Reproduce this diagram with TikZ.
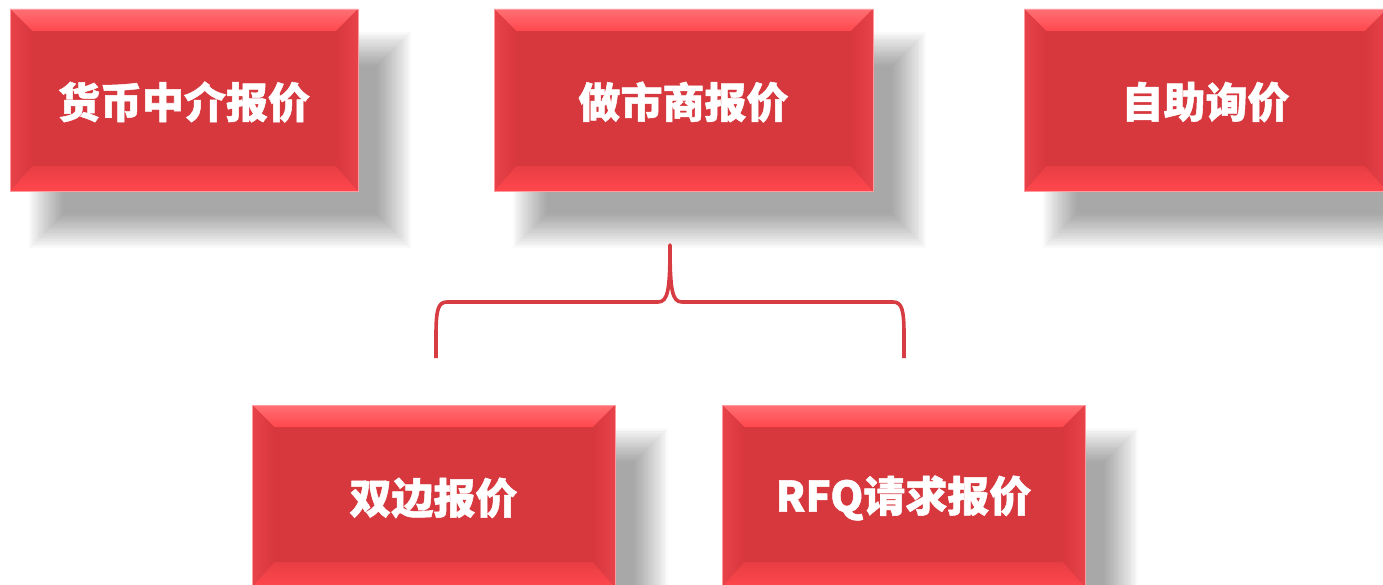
\documentclass[tikz,border=0pt]{standalone}
\usepackage{fontspec}
\newfontfamily\cjk{Noto Sans CJK SC}[FakeBold=1.2]
\definecolor{cmain}{HTML}{D7383D}
\definecolor{ctopA}{HTML}{FF7074}
\definecolor{ctopB}{HTML}{FF474D}
\definecolor{cside}{HTML}{E9424A}
\definecolor{cbrace}{HTML}{D63C41}
\tikzset{
  lbl/.style={text=white,font=\cjk\bfseries\fontsize{42}{50}\selectfont,inner sep=0pt},
  bracestyle/.style={draw=cbrace,line width=3.6pt,line cap=butt,line join=round}
}
\newcommand\rbox[6]{%
  \foreach \i in {-10,...,10}{
    \fill[black,opacity=0.021] ({#2+36-\i*1.7},{#3+40-\i*1.7}) rectangle ({#4+36+\i*1.7},{#5+40+\i*1.7});
  }
  \fill[cmain] (#2,#3) rectangle (#4,#5);
  \shade[top color=ctopA,bottom color=ctopB] (#2,#3) -- (#4,#3) -- ({#4-22},{#3+22}) -- ({#2+22},{#3+22}) -- cycle;
  \shade[top color=cmain!60!ctopB,bottom color=ctopB] (#2,#5) -- (#4,#5) -- ({#4-22},{#5-25}) -- ({#2+22},{#5-25}) -- cycle;
  \shade[left color=cside,right color=cmain] (#2,#3) -- ({#2+22},{#3+22}) -- ({#2+22},{#5-25}) -- (#2,#5) -- cycle;
  \shade[right color=cside,left color=cmain] (#4,#3) -- ({#4-22},{#3+22}) -- ({#4-22},{#5-25}) -- (#4,#5) -- cycle;
  \draw[ctopA!70!white,line width=0.8pt] (#2,#3) rectangle (#4,#5);
  \node[lbl] (#1) at ({(#2+#4)/2},{(#3+#5)/2+2}) {#6};
}
\begin{document}
\begin{tikzpicture}[x=1pt,y=-1pt]
\useasboundingbox (0,0) rectangle (1383,585);
\rbox{b1}{10}{9}{358}{191}{货币中介报价}
\rbox{b2}{494}{9}{873}{191}{做市商报价}
\rbox{b3}{1024}{9}{1387}{191}{自助询价}
\rbox{b4}{252}{405}{615}{587}{双边报价}
\rbox{b5}{722}{405}{1085}{587}{RFQ请求报价}
\coordinate (bl) at (436,358);
\coordinate (tip) at (670,245);
\coordinate (br) at (904,358);
\draw[bracestyle] (bl) -- (436,335) .. controls (436,310) and (438,302) .. (447,302)
  -- (658,302) .. controls (668,302) and (670,290) .. (tip)
  .. controls (670,290) and (672,302) .. (682,302)
  -- (893,302) .. controls (902,302) and (904,310) .. (904,335) -- (br);
\end{tikzpicture}
\end{document}
